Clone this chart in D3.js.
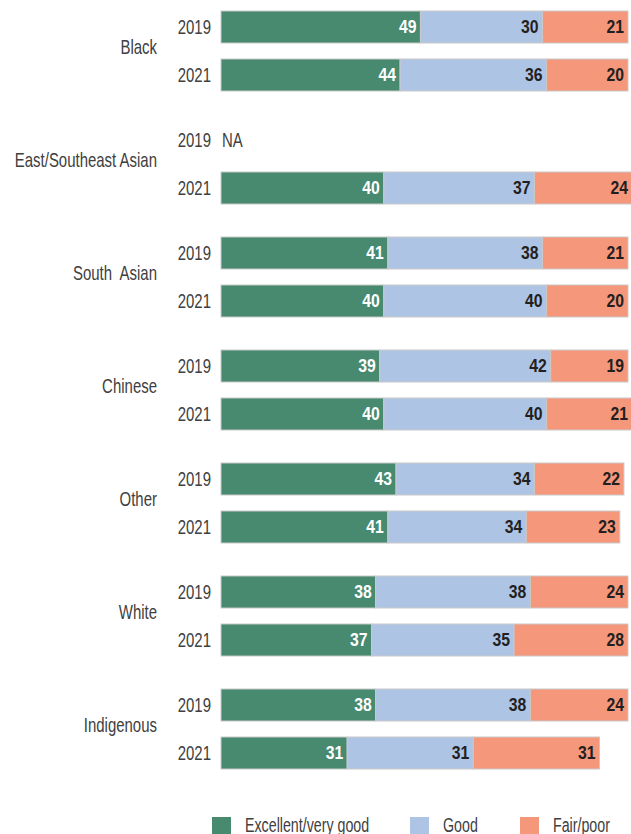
<!DOCTYPE html>
<html>
<head>
<meta charset="utf-8">
<script src="https://cdn.jsdelivr.net/npm/d3@7"></script>
<style>
  html, body { margin: 0; padding: 0; background: #fff; }
  svg { display: block; }
  text { font-family: "Liberation Sans", Arial, sans-serif; }
</style>
</head>
<body>
<svg id="chart" width="631" height="834"></svg>
<script>
const categories = ["Black", "East/Southeast Asian", "South  Asian", "Chinese", "Other", "White", "Indigenous"];
const years = ["2019", "2021"];
const seriesNames = ["Excellent/very good", "Good", "Fair/poor"];
const seriesColors = ["#478a6f", "#aec4e4", "#f5977a"];

const excellent2019 = [49, null, 41, 39, 43, 38, 38];
const good2019      = [30, null, 38, 42, 34, 38, 38];
const fair2019      = [21, null, 21, 19, 22, 24, 24];
const excellent2021 = [44, 40, 40, 40, 41, 37, 31];
const good2021      = [36, 37, 40, 40, 34, 35, 31];
const fair2021      = [20, 24, 20, 21, 23, 28, 31];

const rows = [];
categories.forEach((c, i) => {
  rows.push({cat: c, year: "2019", vals: [excellent2019[i], good2019[i], fair2019[i]]});
  rows.push({cat: c, year: "2021", vals: [excellent2021[i], good2021[i], fair2021[i]]});
});

const svg = d3.select("#chart");
const x = d3.scaleLinear().domain([0, 100]).range([221, 628]);
const yGroup = d3.scaleBand().domain(categories).range([11, 11 + 113 * categories.length]).paddingInner(0).paddingOuter(0);
const yYear = d3.scaleBand().domain(years).range([0, 80]).paddingInner(1/3).paddingOuter(0);
const color = d3.scaleOrdinal().domain(seriesNames).range(seriesColors);

const rowY = d => yGroup(d.cat) + yYear(d.year);
const bh = yYear.bandwidth();
const SX = 0.73;   // condensed look
const SXB = 0.9;
const textCol = "#404040";

// category labels
svg.append("g").selectAll("text").data(categories).join("text")
  .attr("transform", c => `translate(157,${yGroup(c) + 43}) scale(${SX},1)`)
  .attr("text-anchor", "end")
  .attr("font-size", 20.5)
  .attr("fill", textCol)
  .attr("xml:space", "preserve")
  .style("white-space", "pre")
  .text(c => c);

// year labels
svg.append("g").selectAll("text").data(rows).join("text")
  .attr("transform", d => `translate(211,${rowY(d) + bh / 2 + 7}) scale(${SX},1)`)
  .attr("text-anchor", "end")
  .attr("font-size", 20.5)
  .attr("fill", textCol)
  .text(d => d.year);

// NA labels
svg.append("g").selectAll("text").data(rows.filter(d => d.vals[0] == null)).join("text")
  .attr("transform", d => `translate(222,${rowY(d) + bh / 2 + 7}) scale(${SX},1)`)
  .attr("font-size", 20.5)
  .attr("fill", textCol)
  .text("NA");

// segments
const segs = [];
rows.forEach(r => {
  if (r.vals[0] == null) return;
  let acc = 0;
  r.vals.forEach((v, k) => {
    segs.push({row: r, k, v, x0: acc, x1: acc + v});
    acc += v;
  });
});

svg.append("g").selectAll("rect").data(segs).join("rect")
  .attr("x", d => x(d.x0))
  .attr("y", d => rowY(d.row))
  .attr("width", d => x(d.x1) - x(d.x0))
  .attr("height", bh)
  .attr("fill", d => seriesColors[d.k])
  .attr("stroke", "#c9c9c9")
  .attr("stroke-width", 1);

svg.append("g").selectAll("text").data(segs).join("text")
  .attr("transform", d => `translate(${x(d.x1) - 4},${rowY(d.row) + bh / 2 + 6}) scale(${SXB},1)`)
  .attr("text-anchor", "end")
  .attr("font-size", 17.5)
  .attr("font-weight", "bold")
  .attr("fill", d => d.k === 0 ? "#ffffff" : "#231f20")
  .text(d => d.v);

// legend
const legendX = [212, 410, 520];
const lg = svg.append("g").selectAll("g").data(seriesNames).join("g")
  .attr("transform", (d, i) => `translate(${legendX[i]},817)`);
lg.append("rect").attr("width", 19).attr("height", 19)
  .attr("fill", d => color(d));
lg.append("text")
  .attr("transform", `translate(33,15) scale(${SX},1)`)
  .attr("font-size", 19.5).attr("fill", textCol)
  .text(d => d);
</script>
</body>
</html>
